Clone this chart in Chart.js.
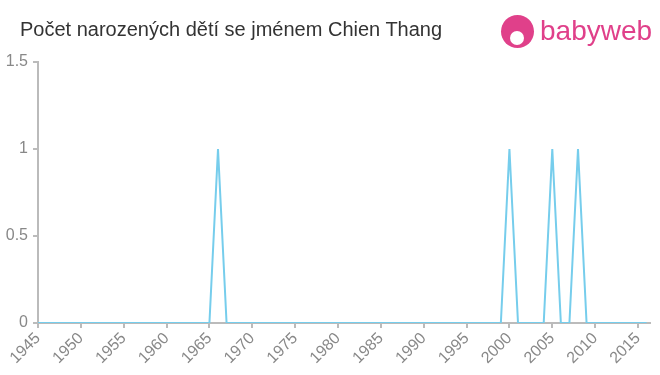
<!DOCTYPE html>
<html>
<head>
<meta charset="utf-8">
<script src="https://cdn.jsdelivr.net/npm/chart.js@4/dist/chart.umd.min.js"></script>
<style>
  body { margin: 0; background: #fff; font-family: "Liberation Sans", Arial, sans-serif; }
  #wrap { position: relative; width: 660px; height: 375px; }
  #title { position: absolute; left: 20px; top: 18px; font-size: 20px; color: #333; white-space: nowrap; }
  #logo { position: absolute; left: 501px; top: 14px; height: 36px; }
  #logo .dot { position: absolute; left: 0; top: 1px; width: 33px; height: 33px; border-radius: 50%; background: #e0408a; }
  #logo .face { position: absolute; left: 9px; top: 17px; width: 14px; height: 14px; border-radius: 50%; background: #fff; }
  #logo .txt { position: absolute; left: 39px; top: 1px; font-size: 28px; color: #e0408a; }
</style>
</head>
<body>
<div id="wrap">
  <canvas id="myChart" width="660" height="375"></canvas>
  <div id="title">Počet narozených dětí se jménem Chien Thang</div>
  <div id="logo"><div class="dot"></div><div class="face"></div><div class="txt">babyweb</div></div>
</div>
<script>
// roky a pocty
var years = [];
for (var y = 1945; y <= 2016; y++) years.push(y);
var peakYears = [1966, 2000, 2005, 2008];
var counts = years.map(function (y) { return peakYears.indexOf(y) >= 0 ? 1 : 0; });
var yTickLabels = ["0", "0.5", "1", "1.5"];

var lineColor = "#76cdec";
var axisColor = "#bbbbbb";
var tickColor = "#888888";

new Chart("myChart", {
  type: "line",
  data: {
    datasets: [{
      data: years.map(function (y, i) { return { x: y, y: counts[i] }; }),
      borderColor: lineColor,
      borderWidth: 2,
      pointRadius: 0,
      tension: 0,
      fill: false
    }]
  },
  options: {
    responsive: false,
    animation: false,
    layout: { padding: { top: 62, right: 10, left: 0, bottom: 0 } },
    plugins: { legend: { display: false }, tooltip: { enabled: false } },
    scales: {
      x: {
        type: "linear",
        min: 1945,
        max: 2016.4,
        afterFit: function (s) { s.height = 52; },
        afterBuildTicks: function (s) {
          var t = [];
          for (var v = 1945; v <= 2015; v += 5) t.push({ value: v });
          s.ticks = t;
        },
        ticks: {
          minRotation: 45, maxRotation: 45, autoSkip: false,
          color: tickColor,
          font: { family: "Liberation Sans", size: 16 },
          padding: 1,
          callback: function (v) { return String(v); }
        },
        grid: { drawOnChartArea: false, color: axisColor, tickLength: 5, lineWidth: 2 },
        border: { color: axisColor, width: 2 }
      },
      y: {
        min: 0,
        max: 1.5,
        afterFit: function (s) { s.width = 38; },
        ticks: {
          stepSize: 0.5,
          color: tickColor,
          font: { family: "Liberation Sans", size: 16 },
          padding: 5,
          callback: function (v, i) { return yTickLabels[i]; }
        },
        grid: { drawOnChartArea: false, color: axisColor, tickLength: 5, lineWidth: 2 },
        border: { color: axisColor, width: 2 }
      }
    }
  }
});
</script>
</body>
</html>
